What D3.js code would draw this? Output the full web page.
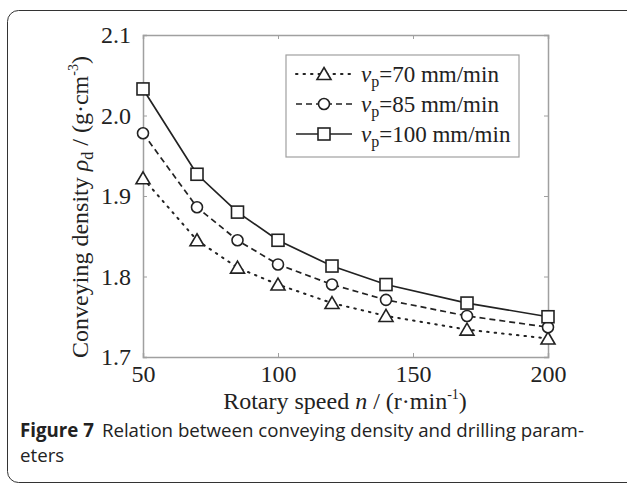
<!DOCTYPE html>
<html>
<head>
<meta charset="utf-8">
<script src="https://cdn.jsdelivr.net/npm/d3@7"></script>
<style>
  body { margin: 0; background: #fff; }
  svg { display: block; }
</style>
</head>
<body>
<svg id="canvas"></svg>
<script>
// rotary speed n (r/min)
const speeds = [50, 70, 85, 100, 120, 140, 170, 200];
// conveying density for each drilling speed vp
const dens70 = [1.922, 1.845, 1.811, 1.790, 1.767, 1.751, 1.734, 1.723];
const dens85 = [1.978, 1.886, 1.845, 1.815, 1.790, 1.771, 1.751, 1.737];
const dens100 = [2.033, 1.927, 1.880, 1.845, 1.813, 1.790, 1.767, 1.750];
const seriesNames = ['70', '85', '100'];
const xTicks = [50, 100, 150, 200];
const yTicks = [1.7, 1.8, 1.9, 2.0, 2.1];

let width = 627;
let height = 483;

let canvas = d3.select('#canvas');
canvas.attr('width', width).attr('height', height);

// card frame
canvas.append('rect')
    .attr('x', 7.5).attr('y', 10.5)
    .attr('width', 700).attr('height', 472)
    .attr('rx', 11)
    .attr('fill', 'none')
    .attr('stroke', '#333')
    .attr('stroke-width', 1);

let xScale = d3.scaleLinear().domain([50, 200]).range([143, 548]);
let yScale = d3.scaleLinear().domain([1.7, 2.1]).range([357, 35]);

const axisColor = '#a0a0a0';
const serif = '"Liberation Serif", "Times New Roman", serif';
const fs = 24;

function styleAxis (g, showLabels) {
    g.select('.domain').attr('stroke', axisColor).attr('stroke-width', 1.5);
    g.selectAll('.tick line').attr('stroke', axisColor).attr('stroke-width', 1);
    g.selectAll('.tick text')
        .attr('font-family', serif)
        .attr('font-size', fs)
        .attr('fill', '#222')
        .style('display', showLabels ? null : 'none');
}

// bottom / top
canvas.append('g')
    .attr('transform', 'translate(0,' + yScale(1.7) + ')')
    .call(d3.axisBottom(xScale).tickValues(xTicks).tickSize(-4).tickPadding(8).tickFormat(d3.format('d')))
    .call(g => styleAxis(g, true));
canvas.append('g')
    .attr('transform', 'translate(0,' + yScale(2.1) + ')')
    .call(d3.axisTop(xScale).tickValues(xTicks).tickSize(-4))
    .call(g => styleAxis(g, false));
// left / right
canvas.append('g')
    .attr('transform', 'translate(' + xScale(50) + ',0)')
    .call(d3.axisLeft(yScale).tickValues(yTicks).tickSize(-4).tickPadding(12).tickFormat(d3.format('.1f')))
    .call(g => styleAxis(g, true));
canvas.append('g')
    .attr('transform', 'translate(' + xScale(200) + ',0)')
    .call(d3.axisRight(yScale).tickValues(yTicks).tickSize(-4))
    .call(g => styleAxis(g, false));

// series
const series = [
    { name: seriesNames[0], values: dens70, dash: '1.5,6', marker: 'triangle' },
    { name: seriesNames[1], values: dens85, dash: '6,4', marker: 'circle' },
    { name: seriesNames[2], values: dens100, dash: null, marker: 'square' }
];

let line = d3.line()
    .x((d, i) => xScale(speeds[i]))
    .y(d => yScale(d));

function drawMarker (g, type, x, y) {
    if (type === 'square') {
        g.append('rect').attr('x', x - 6).attr('y', y - 6)
            .attr('width', 12).attr('height', 12)
            .attr('fill', 'white').attr('stroke', '#222').attr('stroke-width', 1.6);
    } else if (type === 'circle') {
        g.append('circle').attr('cx', x).attr('cy', y).attr('r', 5.5)
            .attr('fill', 'white').attr('stroke', '#222').attr('stroke-width', 1.6);
    } else {
        g.append('path')
            .attr('d', 'M' + x + ',' + (y - 6.5) + 'L' + (x + 7) + ',' + (y + 5.5) + 'L' + (x - 7) + ',' + (y + 5.5) + 'Z')
            .attr('fill', 'white').attr('stroke', '#222').attr('stroke-width', 1.6);
    }
}

series.forEach(s => {
    canvas.append('path')
        .datum(s.values)
        .attr('d', line)
        .attr('fill', 'none')
        .attr('stroke', '#222')
        .attr('stroke-width', s.marker === 'triangle' ? 2 : 1.7)
        .attr('stroke-linecap', s.marker === 'triangle' ? 'round' : 'butt')
        .attr('stroke-dasharray', s.dash);
    let mg = canvas.append('g');
    s.values.forEach((v, i) => drawMarker(mg, s.marker, xScale(speeds[i]), yScale(v)));
});

// legend
let legend = canvas.append('g');
legend.append('rect')
    .attr('x', 286).attr('y', 55).attr('width', 233).attr('height', 102)
    .attr('fill', 'white').attr('stroke', axisColor).attr('stroke-width', 1.2);

series.forEach((s, i) => {
    let ly = 74 + i * 30;
    legend.append('line')
        .attr('x1', 296).attr('x2', 352).attr('y1', ly).attr('y2', ly)
        .attr('stroke', '#222')
        .attr('stroke-width', s.marker === 'triangle' ? 2 : 1.7)
        .attr('stroke-linecap', s.marker === 'triangle' ? 'round' : 'butt')
        .attr('stroke-dasharray', s.dash);
    drawMarker(legend, s.marker, 324, ly);
    let t = legend.append('text')
        .attr('x', 361).attr('y', ly + 8)
        .attr('font-family', serif).attr('font-size', 23).attr('fill', '#222');
    t.append('tspan').attr('font-style', 'italic').text('v');
    t.append('tspan').attr('font-size', 16).attr('dy', 5).text('p');
    t.append('tspan').attr('dy', -5).text('=' + s.name + ' mm/min');
});

// axis titles
let xt = canvas.append('text')
    .attr('x', 345).attr('y', 409)
    .attr('text-anchor', 'middle')
    .attr('font-family', serif).attr('font-size', fs).attr('fill', '#222');
xt.append('tspan').text('Rotary speed ');
xt.append('tspan').attr('font-style', 'italic').text('n');
xt.append('tspan').text(' / (r\u00b7min');
xt.append('tspan').attr('font-size', 14).attr('dy', -10).text('-1');
xt.append('tspan').attr('dy', 10).text(')');

let yt = canvas.append('text')
    .attr('transform', 'translate(88,207) rotate(-90)')
    .attr('text-anchor', 'middle')
    .attr('font-family', serif).attr('font-size', fs).attr('fill', '#222');
yt.append('tspan').text('Conveying density ');
yt.append('tspan').attr('font-style', 'italic').text('\u03c1');
yt.append('tspan').attr('font-size', 16).attr('dy', 5).text('d');
yt.append('tspan').attr('dy', -5).text(' / (g\u00b7cm');
yt.append('tspan').attr('font-size', 14).attr('dy', -10).text('-3');
yt.append('tspan').attr('dy', 10).text(')');

// caption
const sans = '"Open Sans", "Noto Sans", sans-serif';
let cap = canvas.append('text')
    .attr('x', 20).attr('y', 437)
    .attr('font-family', sans).attr('font-size', 18.7).attr('fill', '#222');
cap.append('tspan').attr('font-weight', 'bold').text('Figure 7');
cap.append('tspan').attr('dx', 8).text('Relation between conveying density and drilling param-');
canvas.append('text')
    .attr('x', 20).attr('y', 462)
    .attr('font-family', sans).attr('font-size', 18.7).attr('fill', '#222')
    .text('eters');
</script>
</body>
</html>
